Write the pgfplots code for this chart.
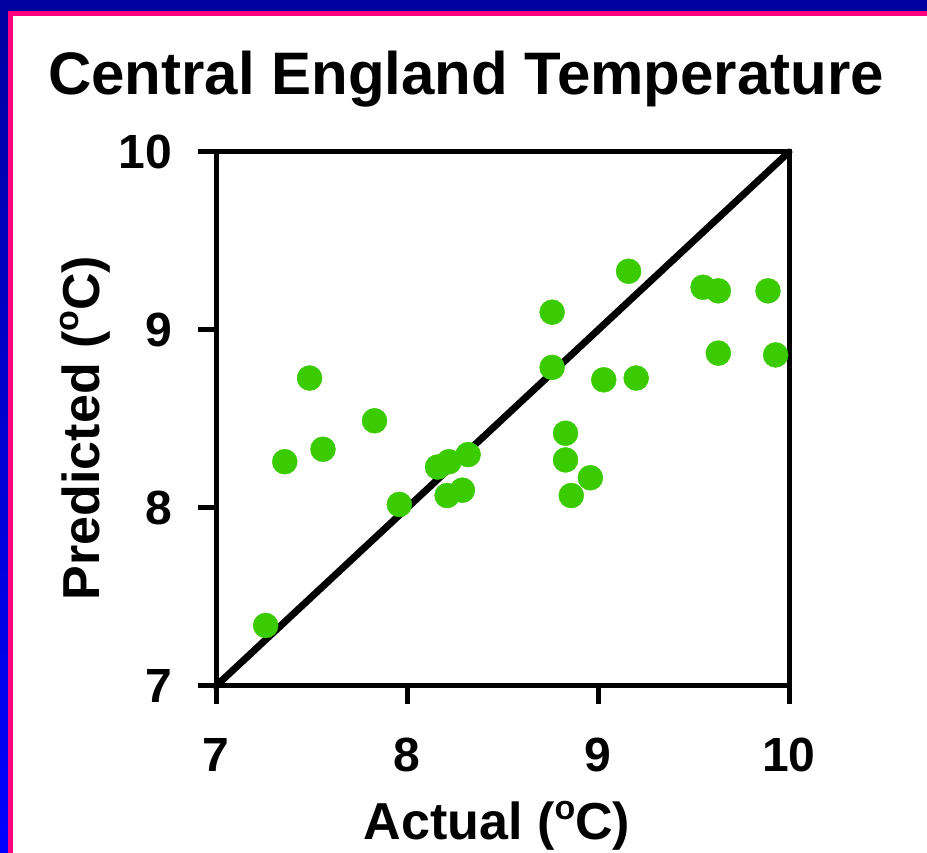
\documentclass[border=0pt]{standalone}
\usepackage{pgfplots}
\pgfplotsset{compat=1.18}
\usepackage{fontspec}
\setmainfont{Liberation Sans}
\definecolor{ptgreen}{RGB}{58,204,0}
\definecolor{navy}{RGB}{0,0,160}
\definecolor{brightblue}{RGB}{0,0,255}
\definecolor{magentaline}{RGB}{255,0,128}
\newcommand{\degsup}{\raisebox{0.40em}{\fontsize{34}{34}\selectfont o}}
\begin{document}
\begin{tikzpicture}[x=1pt,y=1pt]
\shade[top color=navy,bottom color=brightblue] (0,0) rectangle (927,853);
\fill[magentaline] (8,0) rectangle (927,842);
\fill[white] (13,0) rectangle (927,837);
\path[use as bounding box] (0,0) rectangle (927,853);
\begin{axis}[
  at={(216pt,167pt)}, anchor=south west,
  scale only axis, width=573pt, height=534pt,
  xmin=7, xmax=10, ymin=7, ymax=10,
  xtick={7,8,9,10}, ytick={7,8,9,10},
  xtick pos=bottom, ytick pos=left,
  tick align=outside, major tick length=18pt,
  axis line style={line width=5pt, line cap=rect},
  every tick/.style={line width=5pt, black},
  /pgf/number format/assume math mode=true,
  ticklabel style={font=\bfseries\fontsize{48}{50}\selectfont},
  yticklabel style={anchor=east, inner sep=0pt, xshift=-26pt},
  xticklabel style={anchor=north, inner sep=0pt, yshift=-34pt},
  clip=false,
]
\addplot[black, line width=7pt, line cap=round] coordinates {(7,7) (10,10)};
\addplot[only marks, mark=*, mark size=12.5pt, mark options={fill=ptgreen, draw=none}, color=ptgreen] coordinates {
(7.26,7.34) (7.36,8.26) (7.49,8.73) (7.56,8.33) (7.83,8.49) (7.96,8.02)
(8.16,8.23) (8.22,8.26) (8.32,8.30) (8.21,8.07) (8.29,8.10)
(9.16,9.33) (8.76,9.10) (8.76,8.79) (9.55,9.24) (9.63,9.22) (9.89,9.22)
(9.63,8.87) (9.93,8.86) (9.03,8.72) (9.20,8.73) (8.83,8.42) (8.83,8.27)
(8.96,8.17) (8.86,8.07)
};
\end{axis}
\node[anchor=base, inner sep=0pt, font=\bfseries\fontsize{60}{72}\selectfont] at (466,758) {Central England Temperature};
\node[anchor=base, inner sep=0pt, font=\bfseries\fontsize{52}{60}\selectfont] at (497,13) {Actual (\degsup C)};
\node[anchor=base, rotate=90, inner sep=0pt, font=\bfseries\fontsize{52}{60}\selectfont] at (99,425) {Predicted (\degsup C)};
\end{tikzpicture}
\end{document}
